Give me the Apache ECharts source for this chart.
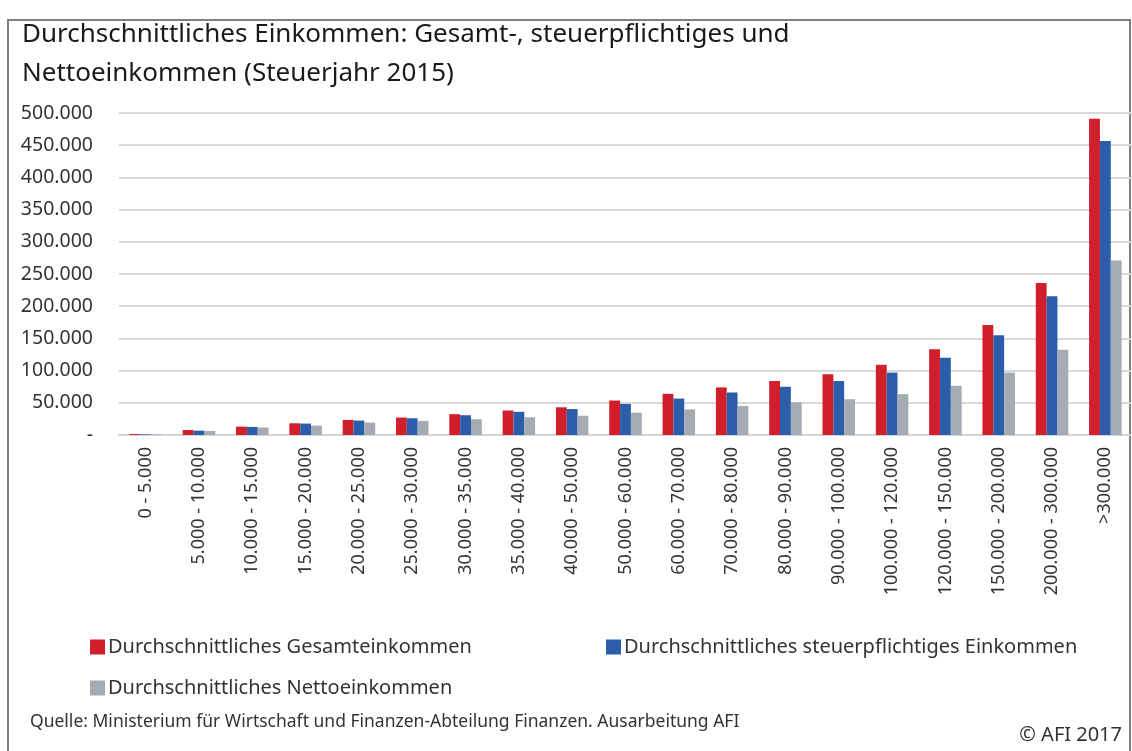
<!DOCTYPE html>
<html>
<head>
<meta charset="utf-8">
<script src="https://cdn.jsdelivr.net/npm/echarts@6/dist/echarts.min.js"></script>
<style>
html,body{margin:0;padding:0;background:#fff;}
#main{width:1132px;height:751px;}
</style>
</head>
<body>
<div id="main"></div>
<script>
var categories = ['0 - 5.000','5.000 - 10.000','10.000 - 15.000','15.000 - 20.000','20.000 - 25.000',
	'25.000 - 30.000','30.000 - 35.000','35.000 - 40.000','40.000 - 50.000','50.000 - 60.000',
	'60.000 - 70.000','70.000 - 80.000','80.000 - 90.000','90.000 - 100.000','100.000 - 120.000',
	'120.000 - 150.000','150.000 - 200.000','200.000 - 300.000','>300.000'];
var gesamt = [1500, 7800, 13000, 18200, 23400, 27100, 32300, 38000, 43000, 53500,
	63900, 73900, 83800, 94300, 109000, 133000, 170800, 236000, 491000];
var steuer = [1000, 6800, 12500, 17700, 22400, 26000, 30700, 36000, 40300, 48200,
	56600, 66000, 74900, 83800, 96900, 120000, 155000, 215500, 456400];
var netto = [1000, 6250, 11500, 14600, 19300, 21900, 24500, 27600, 29900, 34600,
	39800, 45100, 50800, 55500, 63400, 76500, 96900, 132300, 271000];
var names = ['Durchschnittliches Gesamteinkommen','Durchschnittliches steuerpflichtiges Einkommen','Durchschnittliches Nettoeinkommen'];

var font = '"Noto Sans", sans-serif';
function fmt(v){
	if(v === 0) return '-';
	return String(v).replace(/\B(?=(\d{3})+(?!\d))/g, '.');
}

var chart = echarts.init(document.getElementById('main'));
chart.setOption({
	animation: false,
	color: ['#D01F2A', '#2B5DAA', '#A4ABB3'],
	title: {
		text: 'Durchschnittliches Einkommen: Gesamt-, steuerpflichtiges und\nNettoeinkommen (Steuerjahr 2015)',
		left: 17, top: 10,
		textStyle: {fontFamily: font, fontSize: 26, fontWeight: 'normal', color: '#1a1a1a', lineHeight: 39}
	},
	legend: [
		{data: [names[0]], left: 85, top: 632},
		{data: [names[1]], left: 601, top: 632},
		{data: [names[2]], left: 85, top: 673}
	].map(function(l){
		l.icon = 'rect'; l.itemWidth = 15; l.itemHeight = 15; l.itemGap = 4;
		l.textStyle = {fontFamily: font, fontSize: 20, color: '#333', padding: [0, 0, 0, -2]};
		return l;
	}),
	grid: {left: 119, right: 0, top: 113, bottom: 316},
	xAxis: {
		type: 'category',
		data: categories,
		axisLine: {lineStyle: {color: '#d4d4d4', width: 2}},
		axisTick: {alignWithLabel: true, length: 6, lineStyle: {color: '#d4d4d4', width: 2}},
		axisLabel: {rotate: 90, interval: 0, fontFamily: font, fontSize: 18, color: '#333', margin: 12}
	},
	yAxis: {
		type: 'value',
		min: 0, max: 500000, interval: 50000,
		axisLabel: {formatter: fmt, fontFamily: font, fontSize: 19.5, color: '#333', margin: 26},
		splitLine: {lineStyle: {color: '#d9d9d9', width: 2}},
		axisLine: {show: false}, axisTick: {show: false}
	},
	series: [
		{name: names[0], type: 'bar', data: gesamt, barGap: '0%', barCategoryGap: '39%'},
		{name: names[1], type: 'bar', data: steuer},
		{name: names[2], type: 'bar', data: netto}
	],
	graphic: [
		{type: 'rect', shape: {x: 8, y: 20, width: 1122, height: 740}, style: {fill: 'none', stroke: '#7f7f7f', lineWidth: 2}},
		{type: 'text', left: 30, top: 713, style: {text: 'Quelle: Ministerium für Wirtschaft und Finanzen-Abteilung Finanzen. Ausarbeitung AFI', font: '17.5px "Noto Sans", sans-serif', fill: '#333'}},
		{type: 'text', right: 10, top: 725, style: {text: '© AFI 2017', font: '20px "Noto Sans", sans-serif', fill: '#333'}}
	]
});
</script>
</body>
</html>
